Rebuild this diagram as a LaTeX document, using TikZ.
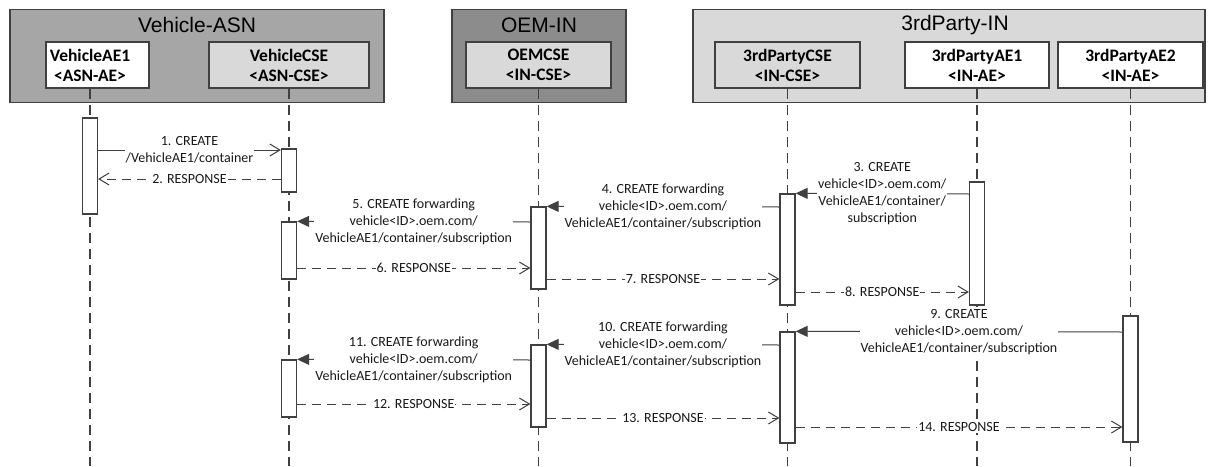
\documentclass[tikz,border=0pt]{standalone}
\usepackage{fontspec}
\setmainfont{Carlito}
\newfontfamily\grpfont{Liberation Sans}
\usetikzlibrary{arrows.meta}
\definecolor{linegray}{RGB}{64,64,64}
\definecolor{asngray}{RGB}{166,166,166}
\definecolor{oemgray}{RGB}{140,140,140}
\definecolor{ingray}{RGB}{217,217,217}
\definecolor{csegray}{RGB}{217,217,217}

\begin{document}
\begin{tikzpicture}[x=1pt, y=-1pt,
    group/.style={draw=linegray, line width=1.5pt, minimum height=93pt, inner sep=0pt},
    grouptitle/.style={font=\grpfont\fontsize{21}{24}\selectfont, inner sep=0pt},
    entity/.style={draw=linegray, line width=1.3pt, minimum height=46pt, inner sep=0pt,
        font=\bfseries\fontsize{17.5}{20}\selectfont, align=center},
    entitytext/.style={font=\bfseries\fontsize{17.5}{20}\selectfont, align=center, inner sep=0pt},
    lifeline/.style={draw=linegray, line width=1.5pt, dash pattern=on 10pt off 6pt},
    bar/.style={draw=linegray, fill=white, line width=1.3pt, minimum width=15pt, inner sep=0pt},
    request/.style={draw=linegray, line width=1pt, -{Triangle[length=12pt, width=11pt]}},
    plainreq/.style={draw=linegray, line width=1pt, -{Straight Barb[length=10pt, width=12pt]}},
    response/.style={draw=linegray, line width=1pt, dash pattern=on 9pt off 6pt,
        -{Straight Barb[length=10pt, width=12pt]}},
    msg/.style={fill=white, font=\fontsize{14}{17}\selectfont, align=center, inner sep=1pt, text=black!90}]

    \useasboundingbox (0,0) rectangle (1215,466);
    \coordinate (bottom) at (0,466);

    % Groups
    \node[group, fill=asngray, minimum width=374pt] (asn) at (197,56) {};
    \node[grouptitle] (asntitle) at (197,25) {Vehicle-ASN};
    \node[group, fill=oemgray, minimum width=174pt] (oem) at (539,56) {};
    \node[grouptitle] (oemtitle) at (539,25) {OEM-IN};
    \node[group, fill=ingray, minimum width=512pt] (tp) at (949,56) {};
    \node[grouptitle] (tptitle) at (955,25) {3rdParty-IN};

    % Entities
    \node[entity, fill=white, minimum width=103pt] (ae1) at (97.5,65) {};
    \node[entitytext] (ae1t) at (90,65) {VehicleAE1\\<ASN-AE>};
    \node[entity, fill=csegray, minimum width=160pt] (vcse) at (289,65) {VehicleCSE\\<ASN-CSE>};
    \node[entity, fill=csegray, minimum width=145pt] (oemcse) at (538.5,65) {OEMCSE\\<IN-CSE>};
    \node[entity, fill=csegray, minimum width=145pt] (tpcse) at (787.5,65) {3rdPartyCSE\\<IN-CSE>};
    \node[entity, fill=white, minimum width=144pt] (tpae1) at (977,65) {3rdPartyAE1\\<IN-AE>};
    \node[entity, fill=white, minimum width=145pt] (tpae2) at (1130.5,65) {3rdPartyAE2\\<IN-AE>};

    % Lifelines
    \draw[lifeline] (ae1t |- ae1.south) -- (ae1t |- bottom);
    \draw[lifeline] (vcse) -- (vcse |- bottom);
    \draw[lifeline] (oemcse) -- (oemcse |- bottom);
    \draw[lifeline] (tpcse) -- (tpcse |- bottom);
    \draw[lifeline] (tpae1) -- (tpae1 |- bottom);
    \draw[lifeline] (tpae2) -- (tpae2 |- bottom);

    % Activation bars
    \node[bar, minimum height=96pt] (b1) at (ae1t |- 0,166) {};
    \node[bar, minimum height=43pt] (b2) at (vcse |- 0,170.5) {};
    \node[bar, minimum height=57pt] (b3) at (vcse |- 0,250.5) {};
    \node[bar, minimum height=57pt] (b4) at (vcse |- 0,388.5) {};
    \node[bar, minimum height=82pt] (b5) at (oemcse |- 0,248) {};
    \node[bar, minimum height=82pt] (b6) at (oemcse |- 0,386) {};
    \node[bar, minimum height=111pt] (b7) at (tpcse |- 0,249.5) {};
    \node[bar, minimum height=111pt] (b8) at (tpcse |- 0,387.5) {};
    \node[bar, minimum height=123pt] (b9) at (tpae1 |- 0,243.5) {};
    \node[bar, minimum height=126pt] (b10) at (tpae2 |- 0,379) {};

    % Messages
    \draw[plainreq] (b1.east |- 0,150) -- node[msg] {1. CREATE\\/VehicleAE1/container} (b2.west |- 0,150);
    \draw[response] (b2.west |- 0,179) -- node[msg] {2. RESPONSE} (b1.east |- 0,179);
    \draw[request] (b9.west |- 0,194) -- node[msg] {3. CREATE\\vehicle<ID>.oem.com/\\VehicleAE1/container/\\subscription} (b7.north east);
    \draw[request] (b7.west |- 0,207) -- node[msg] {4. CREATE forwarding\\vehicle<ID>.oem.com/\\VehicleAE1/container/subscription} (b5.north east);
    \draw[request] (b5.west |- 0,222) -- node[msg] {5. CREATE forwarding\\vehicle<ID>.oem.com/\\VehicleAE1/container/subscription} (b3.north east);
    \draw[response] (b3.east |- 0,268) -- node[msg] {6. RESPONSE} (b5.west |- 0,268);
    \draw[response] (b5.east |- 0,279) -- node[msg] {7. RESPONSE} (b7.west |- 0,279);
    \draw[response] (b7.east |- 0,292) -- node[msg] {8. RESPONSE} (b9.west |- 0,292);
    \draw[request] (b10.west |- 0,332) -- node[msg] {9. CREATE\\vehicle<ID>.oem.com/\\VehicleAE1/container/subscription} (b8.north east);
    \draw[request] (b8.west |- 0,345) -- node[msg] {10. CREATE forwarding\\vehicle<ID>.oem.com/\\VehicleAE1/container/subscription} (b6.north east);
    \draw[request] (b6.west |- 0,360) -- node[msg] {11. CREATE forwarding\\vehicle<ID>.oem.com/\\VehicleAE1/container/subscription} (b4.north east);
    \draw[response] (b4.east |- 0,404) -- node[msg] {12. RESPONSE} (b6.west |- 0,404);
    \draw[response] (b6.east |- 0,418) -- node[msg] {13. RESPONSE} (b8.west |- 0,418);
    \draw[response] (b8.east |- 0,427) -- node[msg] {14. RESPONSE} (b10.west |- 0,427);
\end{tikzpicture}
\end{document}
